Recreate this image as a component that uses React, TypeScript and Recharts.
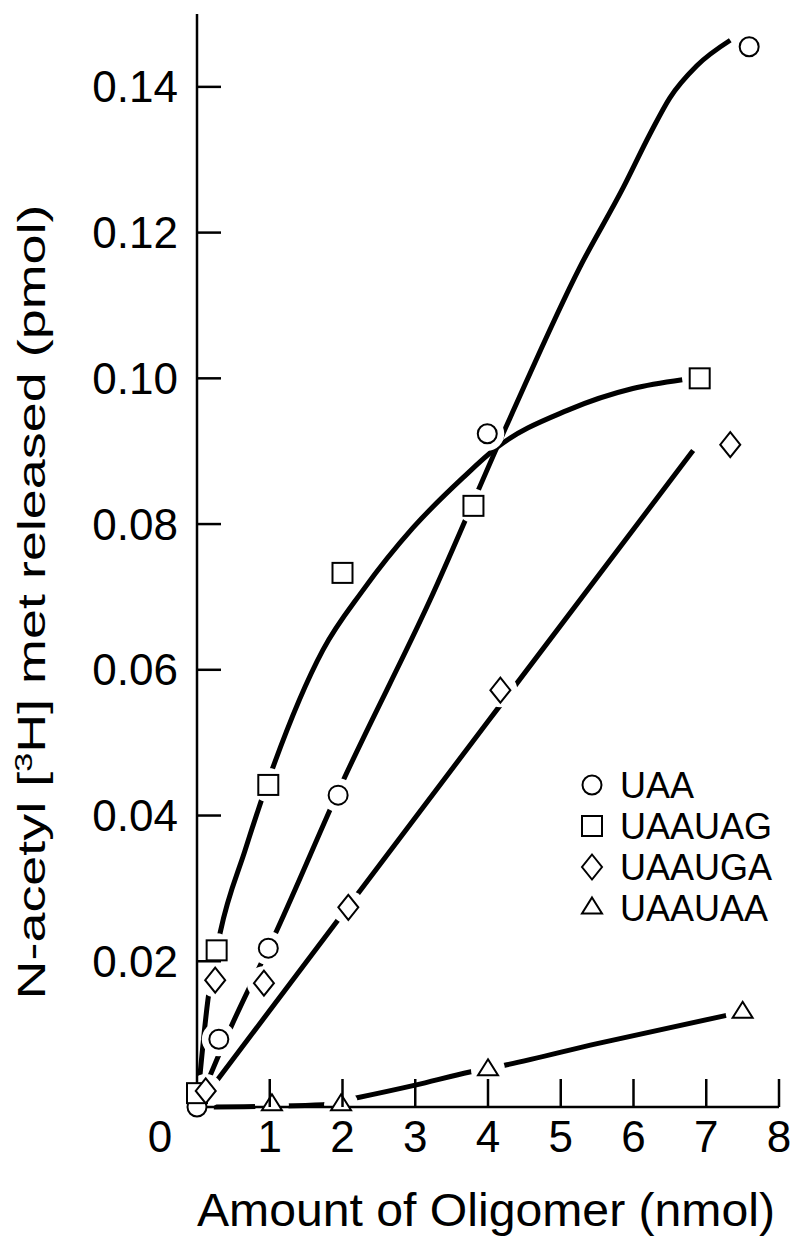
import React from "react";
import { ComposedChart, Line, Scatter, XAxis, YAxis, Legend } from "recharts";

const FONT = '"Liberation Sans", Arial, Helvetica, sans-serif';

const xTicks = [0, 1, 2, 3, 4, 5, 6, 7, 8];
const yTicks = [0.02, 0.04, 0.06, 0.08, 0.1, 0.12, 0.14];

// measured points (x = nmol oligomer, y = pmol released)
const uaaPoints = [
  { x: 0, y: 0 },
  { x: 0.3, y: 0.0093 },
  { x: 0.98, y: 0.0218 },
  { x: 1.94, y: 0.0428 },
  { x: 3.99, y: 0.0924 },
  { x: 7.59, y: 0.1455 },
];
const uaauagPoints = [
  { x: 0, y: 0.0019 },
  { x: 0.27, y: 0.0215 },
  { x: 0.98, y: 0.0442 },
  { x: 2.0, y: 0.0733 },
  { x: 3.8, y: 0.0825 },
  { x: 6.91, y: 0.1 },
];
const uaaugaPoints = [
  { x: 0.12, y: 0.0022 },
  { x: 0.25, y: 0.0174 },
  { x: 0.92, y: 0.017 },
  { x: 2.08, y: 0.0274 },
  { x: 4.17, y: 0.0572 },
  { x: 7.33, y: 0.0909 },
];
const uaauaaPoints = [
  { x: 1.03, y: 0.0003 },
  { x: 1.98, y: 0.0003 },
  { x: 4.0, y: 0.0051 },
  { x: 7.5, y: 0.013 },
];

// hand-drawn curves
const uaaCurve = [
  { x: 0, y: 0 },
  { x: 0.45, y: 0.0106 },
  { x: 1.1, y: 0.0243 },
  { x: 2.0, y: 0.0446 },
  { x: 3.2, y: 0.0695 },
  { x: 4.3, y: 0.0945 },
  { x: 5.26, y: 0.1152 },
  { x: 5.86, y: 0.1262 },
  { x: 6.23, y: 0.1336 },
  { x: 6.5, y: 0.1385 },
  { x: 6.87, y: 0.1429 },
  { x: 7.33, y: 0.1464 },
];
const uaauagCurve = [
  { x: 0, y: 0 },
  { x: 0.15, y: 0.0147 },
  { x: 0.32, y: 0.024 },
  { x: 0.66, y: 0.0352 },
  { x: 1.04, y: 0.0465 },
  { x: 1.73, y: 0.0627 },
  { x: 2.28, y: 0.0709 },
  { x: 2.97, y: 0.0795 },
  { x: 3.66, y: 0.0864 },
  { x: 4.12, y: 0.0905 },
  { x: 5.09, y: 0.0956 },
  { x: 5.99, y: 0.0986 },
  { x: 6.67, y: 0.0998 },
];
const uaaugaCurve = [
  { x: 0, y: 0 },
  { x: 2.0, y: 0.0265 },
  { x: 4.12, y: 0.0545 },
  { x: 6.82, y: 0.0901 },
];
const uaauaaCurve = [
  { x: 0, y: 0 },
  { x: 1.0, y: 0.0001 },
  { x: 1.73, y: 0.0003 },
  { x: 2.17, y: 0.0012 },
  { x: 3.0, y: 0.003 },
  { x: 3.75, y: 0.0048 },
  { x: 4.26, y: 0.0058 },
  { x: 5.5, y: 0.0087 },
  { x: 7.29, y: 0.0126 },
];

const series = [
  { name: "UAA", kind: "circle", points: uaaPoints, curve: uaaCurve },
  { name: "UAAUAG", kind: "square", points: uaauagPoints, curve: uaauagCurve },
  { name: "UAAUGA", kind: "diamond", points: uaaugaPoints, curve: uaaugaCurve },
  { name: "UAAUAA", kind: "triangle", points: uaauaaPoints, curve: uaauaaCurve },
];

function Marker({ kind, cx, cy }: { kind: string; cx: number; cy: number }) {
  const common = { fill: "#fff", stroke: "#000", strokeWidth: 2 };
  if (kind === "circle") return <circle cx={cx} cy={cy} r={9.5} {...common} />;
  if (kind === "square")
    return <rect x={cx - 10} y={cy - 10} width={20} height={20} {...common} />;
  if (kind === "diamond")
    return (
      <polygon
        points={`${cx},${cy - 12.5} ${cx + 10},${cy} ${cx},${cy + 12.5} ${cx - 10},${cy}`}
        {...common}
      />
    );
  return (
    <polygon
      points={`${cx},${cy - 10.5} ${cx + 10},${cy + 5.5} ${cx - 10},${cy + 5.5}`}
      {...common}
    />
  );
}

function XTick(props: any) {
  const { x, y, payload } = props;
  const v = payload.value;
  const label = (
    <text
      x={v === 0 ? x - 37 : x}
      y={y + 45}
      textAnchor="middle"
      fontSize={44}
      fontFamily={FONT}
      fill="#000"
    >
      {v}
    </text>
  );
  if (v === 0) return label;
  return (
    <g>
      <line x1={x} y1={y} x2={x} y2={y - 28} stroke="#000" strokeWidth={2.5} />
      {label}
    </g>
  );
}

function YTick(props: any) {
  const { x, y, payload } = props;
  return (
    <g>
      <line x1={x} y1={y} x2={x + 24} y2={y} stroke="#000" strokeWidth={2.5} />
      <text
        x={x - 19}
        y={y + 15.5}
        textAnchor="end"
        fontSize={44}
        fontFamily={FONT}
        fill="#000"
      >
        {Number(payload.value).toFixed(2)}
      </text>
    </g>
  );
}

function XTitle(props: any) {
  const vb = props.viewBox || { x: 197, y: 1107, width: 582, height: 144 };
  return (
    <text
      x={vb.x + 289}
      y={vb.y + 119}
      textAnchor="middle"
      fontSize={46}
      fontFamily={FONT}
      fill="#000"
      textLength={578}
      lengthAdjust="spacingAndGlyphs"
    >
      Amount of Oligomer (nmol)
    </text>
  );
}

function YTitle() {
  const cx = 45;
  const cy = 602;
  return (
    <text
      x={cx}
      y={cy}
      transform={`rotate(-90, ${cx}, ${cy})`}
      textAnchor="middle"
      fontSize={38}
      fontFamily={FONT}
      fill="#000"
      textLength={795}
      lengthAdjust="spacingAndGlyphs"
    >
      N-acetyl [
      <tspan baselineShift="super" fontSize={24}>
        3
      </tspan>
      H] met released (pmol)
    </text>
  );
}

function renderLegend(props: any) {
  const names = (props.payload || []).map((p: any) => p.value);
  const rows = series.filter((s) => names.includes(s.name));
  return (
    <svg width={210} height={165}>
      {rows.map((s, i) => {
        const cy = 20 + i * 41;
        return (
          <g key={s.name}>
            <Marker kind={s.kind} cx={14} cy={cy} />
            <text x={42} y={cy + 13} fontSize={36} fontFamily={FONT} fill="#000">
              {s.name}
            </text>
          </g>
        );
      })}
    </svg>
  );
}

export default function App() {
  return (
    <div style={{ position: "absolute", left: 0, top: 0, background: "#fff" }}>
      <ComposedChart
        width={798}
        height={1251}
        margin={{ top: 14, right: 19, bottom: 0, left: 0 }}
      >
        {series.map((s) => (
          <Line
            key={"curve-" + s.name}
            data={s.curve}
            dataKey="y"
            type="monotone"
            stroke="#000"
            strokeWidth={5}
            dot={false}
            activeDot={false}
            legendType="none"
            zIndex={100}
            isAnimationActive={false}
          />
        ))}
        {/* white gap around each point, as in the hand-drawn original */}
        {series.map((s) => (
          <Scatter
            key={"halo-" + s.name}
            data={s.points}
            dataKey="y"
            legendType="none"
            zIndex={200}
            shape={(p: any) => <circle cx={p.cx} cy={p.cy} r={17} fill="#fff" />}
            isAnimationActive={false}
          />
        ))}
        <XAxis
          type="number"
          dataKey="x"
          domain={[0, 8]}
          ticks={xTicks}
          interval={0}
          height={144}
          axisLine={{ stroke: "#000", strokeWidth: 2.5 }}
          tickLine={false}
          tickSize={0}
          tickMargin={0}
          tick={<XTick />}
          label={<XTitle />}
          zIndex={300}
        />
        <YAxis
          type="number"
          dataKey="y"
          domain={[0, 0.15]}
          ticks={yTicks}
          interval={0}
          width={197}
          axisLine={{ stroke: "#000", strokeWidth: 2.5 }}
          tickLine={false}
          tickSize={0}
          tickMargin={0}
          tick={<YTick />}
          label={<YTitle />}
          zIndex={300}
        />
        {series.map((s) => (
          <Scatter
            key={"pts-" + s.name}
            name={s.name}
            data={s.points}
            dataKey="y"
            zIndex={400}
            shape={(p: any) => <Marker kind={s.kind} cx={p.cx} cy={p.cy} />}
            isAnimationActive={false}
          />
        ))}
        <Legend
          layout="vertical"
          align="center"
          verticalAlign="middle"
          wrapperStyle={{ left: 578, top: 765, width: 210, height: 165 }}
          content={renderLegend}
        />
      </ComposedChart>
    </div>
  );
}
